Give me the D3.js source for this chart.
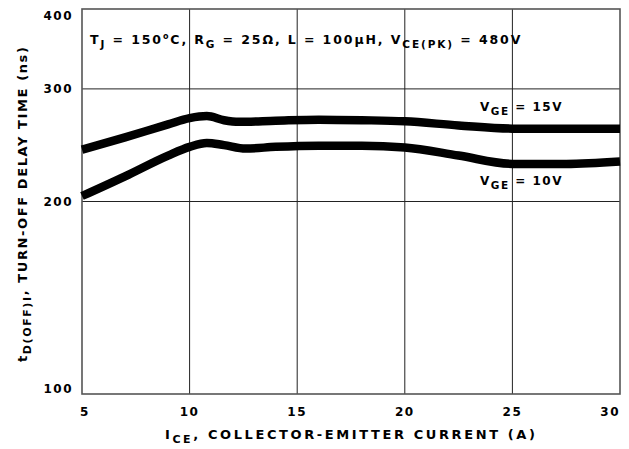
<!DOCTYPE html>
<html lang="en">
<head>
<meta charset="utf-8">
<title>Turn-off delay time vs collector-emitter current</title>
<script src="https://cdn.jsdelivr.net/npm/d3@7/dist/d3.min.js"></script>
<style>
  body { margin: 0; background: #fff; }
  svg text { font-family: "DejaVu Sans", sans-serif; font-weight: bold; fill: #000; letter-spacing: 1.5px; }
</style>
</head>
<body>
<svg width="629" height="449"></svg>
<script>
// collector-emitter current (A)
var currentVge15 = [5, 7, 9, 10, 10.8, 11.6, 12.3, 14, 16, 18, 20, 22.5, 25, 27.5, 30];
var delayVge15   = [241, 252, 264, 270, 272, 268, 266.5, 267.5, 268.5, 268, 267, 263, 260, 260, 260];
var currentVge10 = [5, 7, 9, 10, 10.8, 11.6, 12.6, 14, 16, 18, 20, 22.5, 25, 27.5, 30];
var delayVge10   = [204, 219, 236, 243.5, 247, 245, 242, 243.5, 244.5, 244.5, 243, 236, 229, 229, 231];

var xTicks = [5, 10, 15, 20, 25, 30];
var yTicks = [100, 200, 300, 400];

var svg = d3.select("svg"),
    plotL = 82, plotR = 620, plotT = 9, plotB = 394;

var x = d3.scaleLinear().domain([5, 30]).range([plotL, plotR]);
var y = d3.scaleLog().domain([100, 400]).range([plotB, plotT]);

// grid
svg.append("g").selectAll("line")
    .data(xTicks.slice(1, -1))
    .enter().append("line")
    .attr("x1", d => x(d)).attr("x2", d => x(d))
    .attr("y1", plotT).attr("y2", plotB)
    .attr("stroke", "#222").attr("stroke-width", 1);

svg.append("g").selectAll("line")
    .data(yTicks.slice(1, -1))
    .enter().append("line")
    .attr("x1", plotL).attr("x2", plotR)
    .attr("y1", d => y(d)).attr("y2", d => y(d))
    .attr("stroke", "#222").attr("stroke-width", 1);

svg.append("rect")
    .attr("x", plotL).attr("y", plotT)
    .attr("width", plotR - plotL).attr("height", plotB - plotT)
    .attr("fill", "none").attr("stroke", "#555").attr("stroke-width", 1.6);

// tick labels
svg.append("g").selectAll("text")
    .data(xTicks)
    .enter().append("text")
    .attr("x", d => x(d))
    .attr("y", 416)
    .attr("font-size", 12)
    .attr("text-anchor", (d, i) => i == xTicks.length - 1 ? "end" : (i == 0 ? "start" : "middle"))
    .attr("dx", (d, i) => i == 0 ? -2 : 0)
    .text(d => d);

svg.append("g").selectAll("text")
    .data(yTicks)
    .enter().append("text")
    .attr("x", 73)
    .attr("y", d => Math.min(Math.max(y(d), 16), 389))
    .attr("dy", "0.36em")
    .attr("font-size", 12)
    .attr("text-anchor", "end")
    .text(d => d);

// curves
var line = d3.line().curve(d3.curveMonotoneX)
    .x(d => x(d[0])).y(d => y(d[1]));

[[currentVge15, delayVge15], [currentVge10, delayVge10]].forEach(function(s) {
    svg.append("path")
        .datum(d3.zip(s[0], s[1]))
        .attr("d", line)
        .attr("fill", "none")
        .attr("stroke", "#000")
        .attr("stroke-width", 8.5);
});

// text with subscripts: [text, shift, size]
function richText(xp, yp, parts, size, spacing) {
    var t = svg.append("text").attr("x", xp).attr("y", yp)
        .attr("font-size", size)
        .style("letter-spacing", spacing + "px");
    parts.forEach(function(p) {
        t.append("tspan")
            .attr("font-size", p[2] || size)
            .attr("dy", p[1] || 0)
            .text(p[0]);
    });
    return t;
}

richText(90, 44, [["T"], ["J", 4, 10.5], [" = 150", -4], ["o", -5, 8], ["C, R", 5], ["G", 4, 10.5],
    [" = 25Ω, L = 100µH, V", -4], ["CE(PK)", 4, 10.5], [" = 480V", -4]], 12.5, 1.9);

richText(480, 111, [["V"], ["GE", 4, 10.5], [" = 15V", -4]], 12, 1.5);
richText(480, 185, [["V"], ["GE", 4, 10.5], [" = 10V", -4]], 12, 1.5);

richText(165, 439, [["I"], ["CE", 4, 11], [", COLLECTOR-EMITTER CURRENT (A)", -4]], 13, 2.6);

richText(0, 0, [["t"], ["D(OFF)I", 4, 11], [", TURN-OFF DELAY TIME (ns)", -4]], 13, 1.6)
    .attr("transform", "translate(27,362) rotate(-90)");
</script>
</body>
</html>
